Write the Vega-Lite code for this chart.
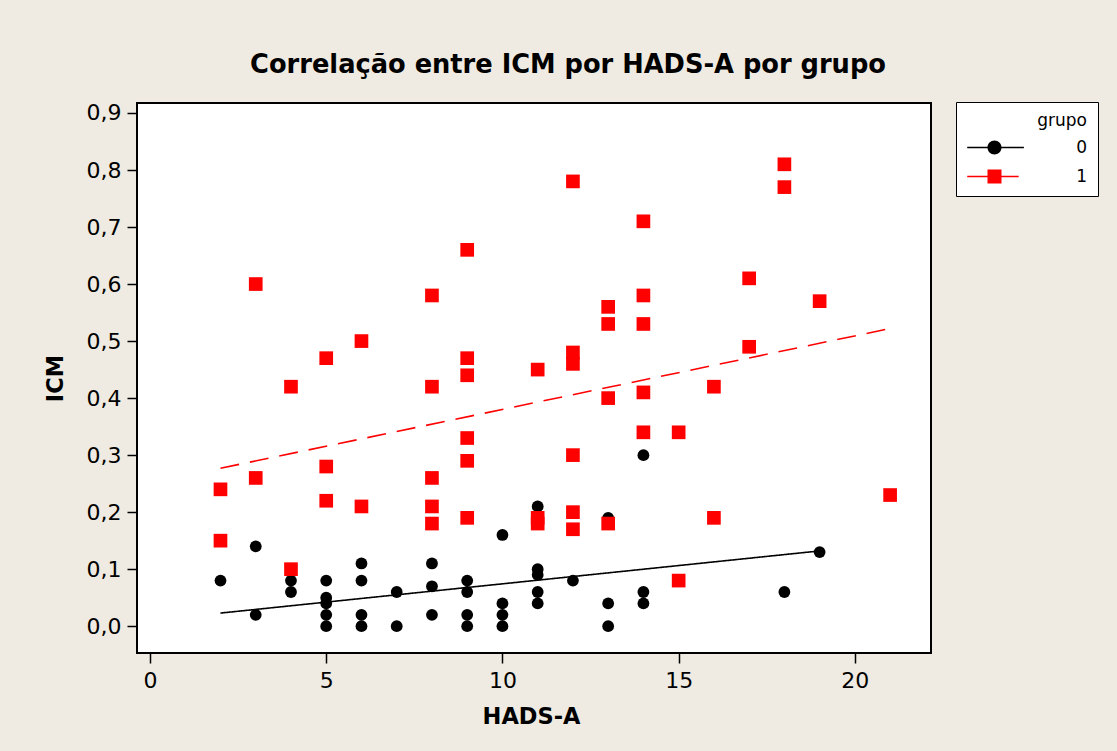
{
  "$schema": "https://vega.github.io/schema/vega-lite/v6.json",
  "width": 794,
  "height": 550,
  "autosize": {"type": "none"},
  "padding": {"left": 137, "top": 103, "right": 186, "bottom": 98},
  "background": "#EFEBE2",
  "config": {
    "font": "DejaVu Sans",
    "view": {"stroke": "black", "strokeWidth": 2, "fill": "white"}
  },
  "title": {
    "text": "Correlação entre ICM por HADS-A por grupo",
    "font": "DejaVu Sans",
    "fontSize": 25.7,
    "fontWeight": "bold",
    "color": "black",
    "anchor": "middle",
    "frame": "group",
    "baseline": "alphabetic",
    "offset": 3,
    "dx": 34
  },
  "datasets": {
    "pts": [
      {"hads": 2, "icm": 0.08, "grupo": 0},
      {"hads": 3, "icm": 0.14, "grupo": 0},
      {"hads": 3, "icm": 0.02, "grupo": 0},
      {"hads": 4, "icm": 0.08, "grupo": 0},
      {"hads": 4, "icm": 0.06, "grupo": 0},
      {"hads": 5, "icm": 0.08, "grupo": 0},
      {"hads": 5, "icm": 0.05, "grupo": 0},
      {"hads": 5, "icm": 0.04, "grupo": 0},
      {"hads": 5, "icm": 0.02, "grupo": 0},
      {"hads": 5, "icm": 0.0, "grupo": 0},
      {"hads": 6, "icm": 0.11, "grupo": 0},
      {"hads": 6, "icm": 0.08, "grupo": 0},
      {"hads": 6, "icm": 0.02, "grupo": 0},
      {"hads": 6, "icm": 0.0, "grupo": 0},
      {"hads": 7, "icm": 0.06, "grupo": 0},
      {"hads": 7, "icm": 0.0, "grupo": 0},
      {"hads": 8, "icm": 0.11, "grupo": 0},
      {"hads": 8, "icm": 0.07, "grupo": 0},
      {"hads": 8, "icm": 0.02, "grupo": 0},
      {"hads": 9, "icm": 0.08, "grupo": 0},
      {"hads": 9, "icm": 0.06, "grupo": 0},
      {"hads": 9, "icm": 0.02, "grupo": 0},
      {"hads": 9, "icm": 0.0, "grupo": 0},
      {"hads": 10, "icm": 0.16, "grupo": 0},
      {"hads": 10, "icm": 0.04, "grupo": 0},
      {"hads": 10, "icm": 0.02, "grupo": 0},
      {"hads": 10, "icm": 0.0, "grupo": 0},
      {"hads": 11, "icm": 0.21, "grupo": 0},
      {"hads": 11, "icm": 0.10, "grupo": 0},
      {"hads": 11, "icm": 0.09, "grupo": 0},
      {"hads": 11, "icm": 0.06, "grupo": 0},
      {"hads": 11, "icm": 0.04, "grupo": 0},
      {"hads": 12, "icm": 0.08, "grupo": 0},
      {"hads": 13, "icm": 0.19, "grupo": 0},
      {"hads": 13, "icm": 0.04, "grupo": 0},
      {"hads": 13, "icm": 0.0, "grupo": 0},
      {"hads": 14, "icm": 0.30, "grupo": 0},
      {"hads": 14, "icm": 0.06, "grupo": 0},
      {"hads": 14, "icm": 0.04, "grupo": 0},
      {"hads": 18, "icm": 0.06, "grupo": 0},
      {"hads": 19, "icm": 0.13, "grupo": 0},
      {"hads": 2, "icm": 0.24, "grupo": 1},
      {"hads": 2, "icm": 0.15, "grupo": 1},
      {"hads": 3, "icm": 0.60, "grupo": 1},
      {"hads": 3, "icm": 0.26, "grupo": 1},
      {"hads": 4, "icm": 0.42, "grupo": 1},
      {"hads": 4, "icm": 0.10, "grupo": 1},
      {"hads": 5, "icm": 0.47, "grupo": 1},
      {"hads": 5, "icm": 0.28, "grupo": 1},
      {"hads": 5, "icm": 0.22, "grupo": 1},
      {"hads": 6, "icm": 0.50, "grupo": 1},
      {"hads": 6, "icm": 0.21, "grupo": 1},
      {"hads": 8, "icm": 0.58, "grupo": 1},
      {"hads": 8, "icm": 0.42, "grupo": 1},
      {"hads": 8, "icm": 0.26, "grupo": 1},
      {"hads": 8, "icm": 0.21, "grupo": 1},
      {"hads": 8, "icm": 0.18, "grupo": 1},
      {"hads": 9, "icm": 0.66, "grupo": 1},
      {"hads": 9, "icm": 0.47, "grupo": 1},
      {"hads": 9, "icm": 0.44, "grupo": 1},
      {"hads": 9, "icm": 0.33, "grupo": 1},
      {"hads": 9, "icm": 0.29, "grupo": 1},
      {"hads": 9, "icm": 0.19, "grupo": 1},
      {"hads": 11, "icm": 0.45, "grupo": 1},
      {"hads": 11, "icm": 0.19, "grupo": 1},
      {"hads": 11, "icm": 0.18, "grupo": 1},
      {"hads": 12, "icm": 0.78, "grupo": 1},
      {"hads": 12, "icm": 0.48, "grupo": 1},
      {"hads": 12, "icm": 0.46, "grupo": 1},
      {"hads": 12, "icm": 0.30, "grupo": 1},
      {"hads": 12, "icm": 0.20, "grupo": 1},
      {"hads": 12, "icm": 0.17, "grupo": 1},
      {"hads": 13, "icm": 0.56, "grupo": 1},
      {"hads": 13, "icm": 0.53, "grupo": 1},
      {"hads": 13, "icm": 0.40, "grupo": 1},
      {"hads": 13, "icm": 0.18, "grupo": 1},
      {"hads": 14, "icm": 0.71, "grupo": 1},
      {"hads": 14, "icm": 0.58, "grupo": 1},
      {"hads": 14, "icm": 0.53, "grupo": 1},
      {"hads": 14, "icm": 0.41, "grupo": 1},
      {"hads": 14, "icm": 0.34, "grupo": 1},
      {"hads": 15, "icm": 0.34, "grupo": 1},
      {"hads": 15, "icm": 0.08, "grupo": 1},
      {"hads": 16, "icm": 0.42, "grupo": 1},
      {"hads": 16, "icm": 0.19, "grupo": 1},
      {"hads": 17, "icm": 0.61, "grupo": 1},
      {"hads": 17, "icm": 0.49, "grupo": 1},
      {"hads": 18, "icm": 0.81, "grupo": 1},
      {"hads": 18, "icm": 0.77, "grupo": 1},
      {"hads": 19, "icm": 0.57, "grupo": 1},
      {"hads": 21, "icm": 0.23, "grupo": 1}
    ],
    "fit": [
      {"hads": 2, "icm": 0.023, "grupo": 0},
      {"hads": 19, "icm": 0.132, "grupo": 0},
      {"hads": 2, "icm": 0.277, "grupo": 1},
      {"hads": 21, "icm": 0.522, "grupo": 1}
    ]
  },
  "encoding": {
    "x": {
      "field": "hads",
      "type": "quantitative",
      "scale": {"domain": [-0.369, 22.16], "nice": false, "zero": false},
      "axis": {
        "title": "HADS-A",
        "values": [0, 5, 10, 15, 20],
        "grid": false,
        "domain": false,
        "tickSize": 10,
        "tickWidth": 1.5,
        "tickColor": "black",
        "labelFont": "DejaVu Sans",
        "labelFontSize": 22,
        "labelColor": "black",
        "labelPadding": 7,
        "titleFont": "DejaVu Sans",
        "titleFontSize": 22.5,
        "titleFontWeight": "bold",
        "titleColor": "black",
        "titleX": 394,
        "titleY": 70,
        "titleAlign": "center",
        "titleBaseline": "alphabetic"
      }
    },
    "y": {
      "field": "icm",
      "type": "quantitative",
      "scale": {"domain": [-0.047, 0.9175], "nice": false, "zero": false},
      "axis": {
        "title": "ICM",
        "values": [0, 0.1, 0.2, 0.3, 0.4, 0.5, 0.6, 0.7, 0.8, 0.9],
        "labelExpr": "replace(format(datum.value, '.1f'), '.', ',')",
        "grid": false,
        "domain": false,
        "tickSize": 10,
        "tickWidth": 1.5,
        "tickColor": "black",
        "labelFont": "DejaVu Sans",
        "labelFontSize": 22,
        "labelColor": "black",
        "labelPadding": 6,
        "titleFont": "DejaVu Sans",
        "titleFontSize": 22.5,
        "titleFontWeight": "bold",
        "titleColor": "black",
        "titleX": -82,
        "titleY": 275,
        "titleAngle": -90,
        "titleAlign": "center",
        "titleBaseline": "middle"
      }
    }
  },
  "layer": [
    {
      "data": {"name": "pts"},
      "mark": {"type": "point", "filled": true, "strokeWidth": 0, "size": 0, "opacity": 1},
      "encoding": {
        "color": {
          "field": "grupo",
          "type": "nominal",
          "scale": {"range": ["black", "#FF0000"]},
          "legend": {
            "title": "grupo",
            "orient": "none",
            "legendX": 819,
            "legendY": -1,
            "fillColor": "white",
            "strokeColor": "black",
            "padding": 11,
            "symbolOffset": 19,
            "symbolSize": 196,
            "symbolStrokeWidth": 0,
            "symbolOpacity": 1,
            "titleFont": "DejaVu Sans",
            "titleFontSize": 17,
            "titleFontWeight": "normal",
            "titleColor": "black",
            "titleAnchor": "end",
            "titlePadding": 9,
            "labelFont": "DejaVu Sans",
            "labelFontSize": 17,
            "labelColor": "black",
            "labelAlign": "right",
            "labelOffset": 84,
            "rowPadding": 11
          }
        },
        "shape": {
          "field": "grupo",
          "type": "nominal",
          "scale": {"range": [
            "M-3.9,-0.1H4.2V0.1H-3.9Z M1,0A1,1 0 1,1 -1,0A1,1 0 1,1 1,0Z",
            "M-3.9,-0.1H3.45V0.1H-3.9Z M-1,-1H1V1H-1Z"
          ]}
        }
      }
    },
    {
      "data": {"name": "pts"},
      "transform": [{"filter": "datum.grupo == 0"}],
      "mark": {"type": "point", "shape": "circle", "filled": true, "opacity": 1, "strokeWidth": 0, "size": 139, "color": "black"}
    },
    {
      "data": {"name": "pts"},
      "transform": [{"filter": "datum.grupo == 1"}],
      "mark": {"type": "point", "shape": "square", "filled": true, "opacity": 1, "strokeWidth": 0, "size": 187, "color": "#FF0000"}
    },
    {
      "data": {"name": "fit"},
      "mark": {"type": "line", "strokeWidth": 1.6},
      "encoding": {
        "stroke": {
          "field": "grupo",
          "type": "nominal",
          "scale": {"range": ["black", "#FF0000"]},
          "legend": null
        },
        "strokeDash": {
          "field": "grupo",
          "type": "nominal",
          "scale": {"range": [[1, 0], [19, 11]]},
          "legend": null
        }
      }
    }
  ]
}
